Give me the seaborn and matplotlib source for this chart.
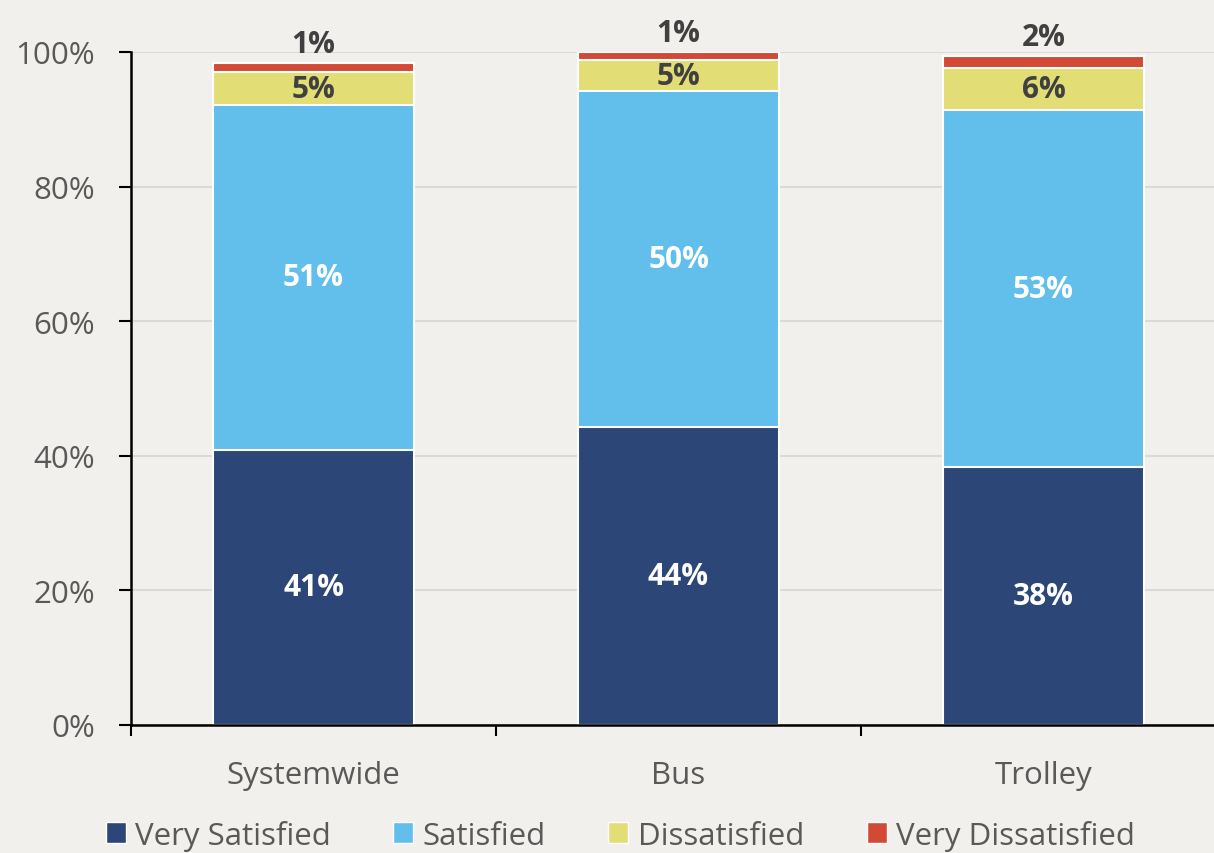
import numpy as np
import pandas as pd
import matplotlib
matplotlib.use('Agg')
import matplotlib.pyplot as plt
import seaborn as sns
from matplotlib.patches import Patch

'''
Data (percent of riders)
'''
categories = ['Systemwide', 'Bus', 'Trolley']
levels = ['Very Satisfied', 'Satisfied', 'Dissatisfied', 'Very Dissatisfied']
very_satisfied = [40.9, 44.3, 38.3]
satisfied = [51.2, 49.9, 53.1]
dissatisfied = [4.9, 4.6, 6.2]
very_dissatisfied = [1.4, 1.2, 1.8]
y_ticks = [0, 20, 40, 60, 80, 100]

colors = ['#2C4777', '#62BFEB', '#E2DD74', '#D24A35']
label_colors = ['white', 'white', '#404040', '#404040']
bg = '#F2F0ED'
gray = '#595959'

sns.set_theme(style='whitegrid')
plt.rcParams['font.family'] = ['Open Sans', 'DejaVu Sans']
fs = 22.5

# long table with cumulative tops for stacking
rows = []
for i, cat in enumerate(categories):
    vals = [very_satisfied[i], satisfied[i], dissatisfied[i], very_dissatisfied[i]]
    bottom = 0
    for lev, v in zip(levels, vals):
        rows.append({'category': cat, 'level': lev, 'value': v,
                     'bottom': bottom, 'top': bottom + v})
        bottom += v
df = pd.DataFrame(rows)

fig = plt.figure(figsize=(12.14, 8.54), dpi=100, facecolor=bg)
ax = fig.add_axes([131 / 1214, 128 / 854, 1095 / 1214, 673 / 854])
ax.set_facecolor(bg)

# draw tallest cumulative layer first so lower layers sit on top
for lev, col in reversed(list(zip(levels, colors))):
    sub = df[df['level'] == lev]
    sns.barplot(data=sub, x='category', y='top', order=categories, color=col,
                saturation=1, width=0.55, errorbar=None, edgecolor='white',
                linewidth=1.5, ax=ax)

# data labels
for _, r in df.iterrows():
    x = categories.index(r['category'])
    li = levels.index(r['level'])
    txt = f"{r['value']:.0f}%"
    if r['level'] == 'Very Dissatisfied':
        ax.annotate(txt, (x, r['top']), xytext=(0, 3), textcoords='offset points',
                    ha='center', va='bottom', fontsize=fs - 1, fontweight='bold',
                    color=label_colors[li], annotation_clip=False)
    else:
        ax.text(x, r['bottom'] + r['value'] / 2, txt, ha='center', va='center',
                fontsize=fs - 1, fontweight='bold', color=label_colors[li])

ax.set_xlim(-0.5, 2.5)
ax.set_ylim(0, 100)
ax.set_yticks(y_ticks)
ax.set_yticklabels([f'{t}%' for t in y_ticks])
ax.set_xticks(range(len(categories)))
ax.set_xticklabels(categories)
ax.set_xticks([-0.5, 0.5, 1.5, 2.5], minor=True)
ax.set_xlabel('')
ax.set_ylabel('')

ax.tick_params(axis='y', which='major', direction='out', length=9, width=1.5,
               color='black', labelsize=fs, labelcolor=gray, pad=17, left=True)
ax.tick_params(axis='x', which='major', length=0, labelsize=fs, labelcolor=gray, pad=25)
ax.tick_params(axis='x', which='minor', direction='out', length=8, width=1.5,
               color='black', bottom=True)

ax.grid(axis='y', color='#D9D9D9', linewidth=1.5)
ax.grid(axis='x', visible=False)
ax.set_axisbelow(True)
for s in ['top', 'right']:
    ax.spines[s].set_visible(False)
for s in ['left', 'bottom']:
    ax.spines[s].set_visible(True)
    ax.spines[s].set_color('black')
    ax.spines[s].set_linewidth(1.8)

handles = [Patch(facecolor=c, edgecolor='white', linewidth=1) for c in colors]
fig.legend(handles, levels, loc='center', bbox_to_anchor=(0.511, 0.021), ncol=4,
           frameon=False, fontsize=fs, labelcolor=gray, handlelength=0.64,
           handleheight=0.64, handletextpad=0.3, columnspacing=2.0)

fig.savefig('out.png', dpi=100, facecolor=bg)
